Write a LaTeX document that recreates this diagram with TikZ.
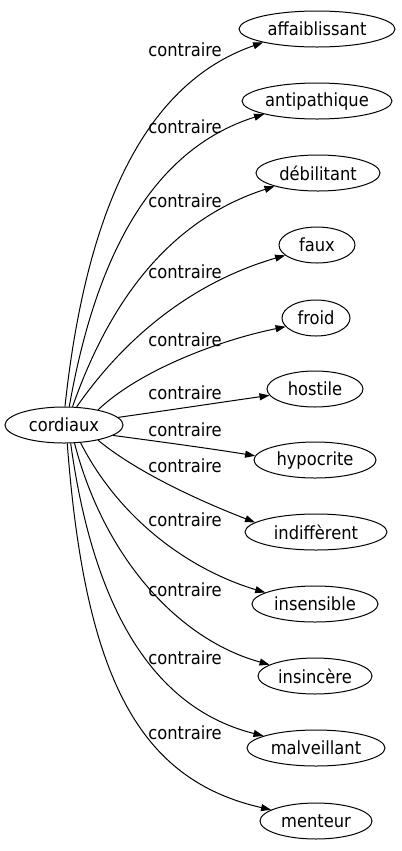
\documentclass[tikz,border=0pt]{standalone}
\usepackage{fontspec}
\setmainfont{DejaVu Sans Condensed}
\usetikzlibrary{arrows.meta,shapes.geometric}
\begin{document}
\begin{tikzpicture}[x=0.75pt,y=-0.75pt,
  word/.style={draw, ellipse, line width=0.75pt, inner sep=0pt, minimum height=27pt, font=\fontsize{13.6}{15}\selectfont},
  lab/.style={inner sep=0pt, font=\fontsize{13.6}{15}\selectfont},
  rel/.style={draw, line width=0.75pt, -{Triangle[length=7.5pt,width=5.25pt]}}]
\useasboundingbox (0,0) rectangle (401,851);
\node[word, minimum width=88.5pt] (c) at (64,425) {cordiaux};
\node[word, minimum width=117pt] (a1) at (317,29) {affaiblissant};
\node[word, minimum width=112.5pt] (a2) at (317,101) {antipathique};
\node[word, minimum width=93pt] (a3) at (318,173) {débilitant};
\node[word, minimum width=57pt] (a4) at (317,245) {faux};
\node[word, minimum width=51pt] (a5) at (316,318) {froid};
\node[word, minimum width=72pt] (a6) at (315,389) {hostile};
\node[word, minimum width=91.5pt] (a7) at (315,460) {hypocrite};
\node[word, minimum width=106.5pt] (a8) at (316,532) {indiffèrent};
\node[word, minimum width=94.5pt] (a9) at (315,604) {insensible};
\node[word, minimum width=85.5pt] (a10) at (315,676) {insincère};
\node[word, minimum width=103.5pt] (a11) at (316,748) {malveillant};
\node[word, minimum width=84pt] (a12) at (316,821) {menteur};

\node[lab] (l1) at (185,50) {contraire};
\node[lab] (l2) at (185,127) {contraire};
\node[lab] (l3) at (185,201) {contraire};
\node[lab] (l4) at (185,272) {contraire};
\node[lab] (l5) at (185,340) {contraire};
\node[lab] (l6) at (185,393) {contraire};
\node[lab] (l7) at (185,430) {contraire};
\node[lab] (l8) at (185,466) {contraire};
\node[lab] (l9) at (185,520) {contraire};
\node[lab] (l10) at (185,590) {contraire};
\node[lab] (l11) at (185,658) {contraire};
\node[lab] (l12) at (185,733) {contraire};

\draw[rel] (c.87) .. controls (85,220) and (140,85) .. (a1.194);
\draw[rel] (c.74) .. controls (95,260) and (150,150) .. (a2.194);
\draw[rel] (c.65) .. controls (110,300) and (170,220) .. (a3.197);
\draw[rel] (c.55) .. controls (130,330) and (200,280) .. (a4.198);
\draw[rel] (c.24) .. controls (140,370) and (220,340) .. (a5.196);
\draw[rel] (c.8) .. controls (170,410) and (230,401) .. (a6.188);
\draw[rel] (c.-12) .. controls (170,443) and (220,450) .. (a7.176);
\draw[rel] (c.-24) .. controls (140,475) and (210,505) .. (a8.171);
\draw[rel] (c.-47) .. controls (120,520) and (190,570) .. (a9.167);
\draw[rel] (c.-60) .. controls (105,560) and (180,640) .. (a10.166);
\draw[rel] (c.-70) .. controls (95,620) and (160,710) .. (a11.167);
\draw[rel] (c.-80) .. controls (85,680) and (140,780) .. (a12.166);
\end{tikzpicture}
\end{document}
